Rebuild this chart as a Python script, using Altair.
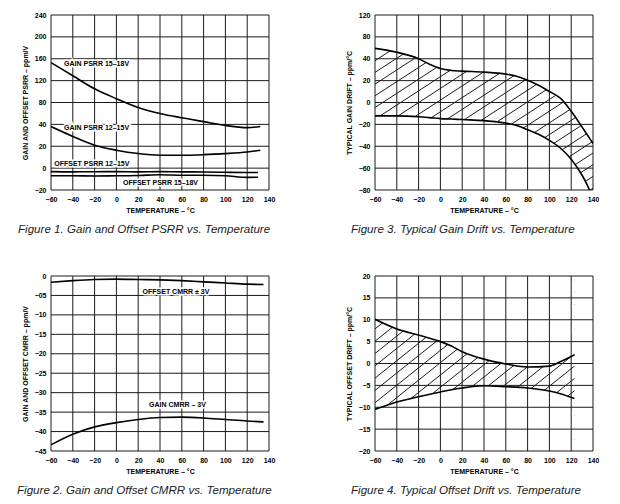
import altair as alt
import pandas as pd

# ---------------- data ----------------
TEMP_TICKS = [-60, -40, -20, 0, 20, 40, 60, 80, 100, 120, 140]

# Figure 1: Gain and Offset PSRR vs. Temperature
psrr_ticks = [-20, 0, 20, 40, 80, 120, 160, 200, 240]
psrr_temp = [-60, -40, -20, 0, 20, 40, 60, 80, 100, 120, 132]
gain_psrr_15_18 = [153, 129, 105, 87, 71, 60, 52, 45, 39, 37, 38]
gain_psrr_12_15 = [38, 29, 21, 16.4, 13.3, 11.8, 11.8, 12.3, 13.3, 14.8, 16.4]
offset_temp = [-60, -40, -20, 0, 20, 40, 60, 80, 100, 120, 130]
offset_psrr_12_15 = [-3.2, -3.4, -3.3, -3.2, -3.4, -3.2, -3.4, -3.5, -3.8, -4.0, -4.0]
offset_psrr_15_18 = [-7.0, -7.0, -7.2, -7.0, -6.8, -6.0, -6.5, -6.5, -7.0, -8.5, -8.3]
psrr_label_text = ["GAIN PSRR 15–18V", "GAIN PSRR 12–15V", "OFFSET PSRR 12–15V", "OFFSET PSRR 15–18V"]
psrr_label_temp = [-48, -48, -57, 6]
psrr_label_val = [150, 37, 4, -14]

# Figure 2: Gain and Offset CMRR vs. Temperature
cmrr_ticks = [0, -5, -10, -15, -20, -25, -30, -35, -40, -45]
cmrr_temp = [-60, -40, -20, 0, 20, 40, 60, 80, 100, 120, 135]
offset_cmrr = [-1.6, -1.2, -0.9, -0.8, -0.9, -1.0, -1.2, -1.5, -1.8, -2.1, -2.2]
gain_cmrr = [-43.4, -40.7, -38.8, -37.7, -36.9, -36.4, -36.3, -36.5, -36.9, -37.3, -37.5]
cmrr_label_text = ["OFFSET CMRR ± 3V", "GAIN CMRR – 3V"]
cmrr_label_temp = [24, 30]
cmrr_label_val = [-4.1, -33.2]

# Figure 3: Typical Gain Drift vs. Temperature
gdrift_ticks = [-80, -60, -40, -20, 0, 20, 40, 80, 120]
gdrift_temp = [-60, -40, -20, -10, 0, 10, 20, 40, 60, 70, 80, 90, 100, 110, 120, 130, 135, 140]
gdrift_upper = [59, 52, 40, 35, 31, 29.3, 28.7, 27.8, 26, 24, 20.3, 15.7, 10, 4, -8, -22.5, -30, -37.5]
gdrift_lower = [-12.2, -12.2, -13, -13.8, -14.7, -15.1, -15.6, -16.6, -18.8, -21, -25, -29, -34.6,
                -41.6, -51.8, -66.5, -76, -88]

# Figure 4: Typical Offset Drift vs. Temperature
odrift_ticks = [-20, -15, -10, -5, 0, 5, 10, 15, 20]
odrift_temp = [-60, -40, -20, 0, 10, 20, 40, 60, 80, 100, 110, 123]
odrift_upper = [10.1, 7.9, 6.5, 5.0, 4.0, 2.7, 1.0, -0.1, -0.8, -0.6, 0.4, 2.0]
odrift_lower = [-10.5, -8.8, -7.6, -6.5, -6.0, -5.6, -5.1, -5.3, -5.6, -6.3, -6.9, -8.0]

# ---------------- styling ----------------
W, H = 218, 175
FONT = "Liberation Sans"
GRID = "#1a1a1a"
XS = alt.Scale(domain=[-60, 140], nice=False, zero=False)
XAX = alt.Axis(values=TEMP_TICKS, title="TEMPERATURE – °C", labelFlush=False,
               labelOverlap=False, labelPadding=5, titlePadding=4)


def yaxis(ticks, title, expr=None):
    kw = dict(values=ticks, title=title, orient="left", labelFlush=False,
              labelOverlap=False, labelPadding=5, titlePadding=6)
    if expr:
        kw["labelExpr"] = expr
    return alt.Axis(**kw)


def xenc(field="T"):
    return alt.X(f"{field}:Q", scale=XS, axis=XAX)


def grid(ticks, yf, ys, ya):
    vx = alt.Chart(pd.DataFrame({"T": TEMP_TICKS})).mark_rule(
        color=GRID, strokeWidth=1).encode(x=xenc())
    hy = alt.Chart(pd.DataFrame({yf: ticks})).mark_rule(
        color=GRID, strokeWidth=1).encode(y=alt.Y(f"{yf}:Q", scale=ys, axis=ya))
    return [vx, hy]


def curves(df, yf, ys, ya):
    return alt.Chart(df).mark_line(color="black", strokeWidth=1.6, interpolate="monotone",
                                   clip=True).encode(
        x=xenc(), y=alt.Y(f"{yf}:Q", scale=ys, axis=ya), detail="series:N")


def labels(df, yf, ys, ya):
    base = alt.Chart(df).encode(x=xenc(), y=alt.Y(f"{yf}:Q", scale=ys, axis=ya), text="label:N")
    kw = dict(align="left", baseline="middle", font=FONT, fontWeight="bold", fontSize=7)
    halo = base.mark_text(color="white", stroke="white", strokeWidth=3, **kw)
    txt = base.mark_text(color="black", **kw)
    return [halo, txt]


def caption(text, dx):
    return alt.TitleParams(text, orient="bottom", anchor="start", frame="group", dx=dx, offset=11,
                           font=FONT, fontSize=11.6, fontStyle="italic", fontWeight="normal",
                           color="#222222")


def band(temp, upper, lower, yf, ys, ya, ytop, ybot, ticks, slope, spacing_px):
    df = pd.DataFrame({"T": temp, yf: upper, "lo": lower})
    tmin, tmax = min(temp), max(temp)
    rise = slope * (tmax - tmin) * W / 200 / H * 100
    sp = spacing_px / H * 100
    hatch = alt.Chart(alt.sequence(-120, 120, sp, as_="c")).transform_calculate(
        c2=f"datum.c + {rise}", t1=f"{tmin}", t2=f"{tmax}"
    ).mark_rule(color="black", strokeWidth=0.9, clip=True).encode(
        x=alt.X("t1:Q", scale=XS, axis=XAX), x2="t2:Q",
        y=alt.Y("c:Q", scale=alt.Scale(domain=[0, 100], nice=False, zero=False), axis=None),
        y2="c2:Q")
    mtop = alt.Chart(df).mark_area(color="white", clip=True).encode(
        x=xenc(), y=alt.Y(f"{yf}:Q", scale=ys, axis=ya), y2=alt.datum(ytop))
    mbot = alt.Chart(df).mark_area(color="white", clip=True).encode(
        x=xenc(), y=alt.Y("lo:Q", scale=ys, axis=ya), y2=alt.datum(ybot))
    lkw = dict(color="black", strokeWidth=1.6, interpolate="monotone", clip=True)
    lup = alt.Chart(df).mark_line(**lkw).encode(x=xenc(), y=alt.Y(f"{yf}:Q", scale=ys, axis=ya))
    llo = alt.Chart(df).mark_line(**lkw).encode(x=xenc(), y=alt.Y("lo:Q", scale=ys, axis=ya))
    inner = alt.layer(mtop, mbot, *grid(ticks, yf, ys, ya), lup, llo)
    return alt.layer(hatch, inner).resolve_scale(y="independent")


# ---------------- Figure 1 ----------------
ys1 = alt.Scale(domain=[-20, 40, 240], range=[H, H * 5 / 8, 0], nice=False, zero=False)
ya1 = yaxis(psrr_ticks, "GAIN AND OFFSET PSRR – ppm/V")
df1 = pd.concat([
    pd.DataFrame({"T": psrr_temp, "v1": gain_psrr_15_18, "series": "g1518"}),
    pd.DataFrame({"T": psrr_temp, "v1": gain_psrr_12_15, "series": "g1215"}),
    pd.DataFrame({"T": offset_temp, "v1": offset_psrr_12_15, "series": "o1215"}),
    pd.DataFrame({"T": offset_temp, "v1": offset_psrr_15_18, "series": "o1518"}),
])
lab1 = pd.DataFrame({"T": psrr_label_temp, "v1": psrr_label_val, "label": psrr_label_text})
p1 = alt.layer(*grid(psrr_ticks, "v1", ys1, ya1), curves(df1, "v1", ys1, ya1),
               *labels(lab1, "v1", ys1, ya1)).properties(
    width=W, height=H, title=caption("Figure 1.  Gain and Offset PSRR vs. Temperature", -33))

# ---------------- Figure 2 ----------------
ys2 = alt.Scale(domain=[-45, 0], nice=False, zero=False)
ya2 = yaxis(cmrr_ticks, "GAIN AND OFFSET CMRR – ppm/V",
            "datum.value == -5 ? '−05' : datum.label")
df2 = pd.concat([
    pd.DataFrame({"T": cmrr_temp, "v2": offset_cmrr, "series": "off"}),
    pd.DataFrame({"T": cmrr_temp, "v2": gain_cmrr, "series": "gain"}),
])
lab2 = pd.DataFrame({"T": cmrr_label_temp, "v2": cmrr_label_val, "label": cmrr_label_text})
p2 = alt.layer(*grid(cmrr_ticks, "v2", ys2, ya2), curves(df2, "v2", ys2, ya2),
               *labels(lab2, "v2", ys2, ya2)).properties(
    width=W, height=H, title=caption("Figure 2.  Gain and Offset CMRR vs. Temperature", -34))

# ---------------- Figure 3 ----------------
ys3 = alt.Scale(domain=[-80, 40, 120], range=[H, H * 2 / 8, 0], nice=False, zero=False)
ya3 = yaxis(gdrift_ticks, "TYPICAL GAIN DRIFT – ppm/°C")
p3 = band(gdrift_temp, gdrift_upper, gdrift_lower, "v3", ys3, ya3, 120, -80, gdrift_ticks,
          0.65, 11.7).properties(
    width=W, height=H, title=caption("Figure 3.  Typical Gain Drift vs. Temperature", -24))

# ---------------- Figure 4 ----------------
ys4 = alt.Scale(domain=[-20, 20], nice=False, zero=False)
ya4 = yaxis(odrift_ticks, "TYPICAL OFFSET DRIFT – ppm/°C")
p4 = band(odrift_temp, odrift_upper, odrift_lower, "v4", ys4, ya4, 20, -20, odrift_ticks,
          0.8, 12.3).properties(
    width=W, height=H, title=caption("Figure 4.  Typical Offset Drift vs. Temperature", -24))

row1 = alt.hconcat(p1, p3, spacing=70).resolve_scale(x="independent", y="independent")
row2 = alt.hconcat(p2, p4, spacing=70).resolve_scale(x="independent", y="independent")
chart = alt.vconcat(row1, row2, spacing=36).resolve_scale(
    x="independent", y="independent"
).properties(
    padding={"left": 9, "top": 3, "right": 0, "bottom": 0}, background="white"
).configure_view(stroke=None).configure_axis(
    labelFont=FONT, labelFontSize=7, labelFontWeight="bold", labelColor="black",
    titleFont=FONT, titleFontSize=7, titleFontWeight="bold", titleColor="black",
    grid=False, ticks=False, domain=False
)

chart.save("out.html", embed_options={"renderer": "svg", "actions": False})
